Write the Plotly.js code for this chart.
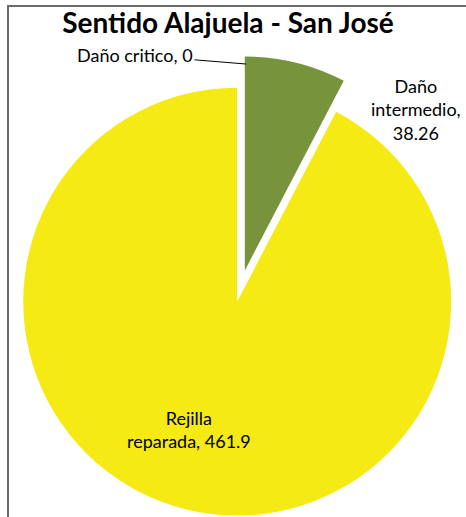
<!DOCTYPE html>
<html>
<head>
<meta charset="utf-8">
<script src="https://cdn.plot.ly/plotly-3.0.1.min.js"></script>
<style>
  html, body { margin: 0; padding: 0; overflow: hidden; background: #fff; }
  #chart { width: 480px; height: 517px; }
</style>
</head>
<body>
<div id="chart"></div>
<script>
// ---- data ----
const chartTitle = 'Sentido Alajuela - San José';
const labels = ['Daño critico', 'Daño intermedio', 'Rejilla reparada'];
const values = [0, 38.26, 461.9];
const sliceColors = ['#4F81BD', '#77933C', '#F5EA14'];

// ---- layout helpers (pixel -> paper) ----
const W = 480, H = 517;
const px = x => x / W;
const py = y => 1 - y / H;

const trace = {
  type: 'pie',
  labels: labels,
  values: values,
  sort: false,
  direction: 'clockwise',
  rotation: 0,
  pull: [0, 0.075, 0.075],
  marker: { colors: sliceColors, line: { width: 0 } },
  textinfo: 'none',
  hoverinfo: 'label+value',
  showlegend: false,
  domain: { x: [px(10), px(472)], y: [py(516), py(56)] }
};

const labelFont = { family: 'Lato, "Open Sans", sans-serif', size: 18, color: '#000' };

const annotations = [
  {
    xref: 'paper', yref: 'paper',
    x: px(246), y: py(64),
    text: labels[0] + ', ' + values[0],
    showarrow: true, arrowhead: 0, arrowwidth: 1, arrowcolor: '#000',
    ax: -111, ay: -9, standoff: 0,
    font: labelFont
  },
  {
    xref: 'paper', yref: 'paper',
    x: px(416), y: py(110),
    text: labels[1].replace(' ', '<br>') + ',<br>' + values[1],
    showarrow: false, xanchor: 'center', yanchor: 'middle',
    font: labelFont
  },
  {
    xref: 'paper', yref: 'paper',
    x: px(189), y: py(429),
    text: labels[2].replace(' ', '<br>') + ', ' + values[2],
    showarrow: false, xanchor: 'center', yanchor: 'middle',
    font: labelFont
  }
];

const layout = {
  width: W, height: H,
  margin: { l: 0, r: 0, t: 0, b: 0, pad: 0 },
  paper_bgcolor: '#fff',
  title: {
    text: '<b>' + chartTitle + '</b>',
    x: px(228), xanchor: 'center', xref: 'paper',
    y: py(23), yanchor: 'middle', yref: 'paper',
    font: { family: 'Lato, "Open Sans", sans-serif', size: 28, color: '#000' }
  },
  annotations: annotations,
  shapes: [
    { type: 'rect', xref: 'paper', yref: 'paper',
      x0: px(8), x1: 1.05, y0: -0.05, y1: py(6),
      line: { color: '#6b6b6b', width: 2 }, fillcolor: 'rgba(0,0,0,0)', layer: 'above' }
  ]
};

Plotly.newPlot('chart', [trace], layout, { displayModeBar: false, staticPlot: true });
</script>
</body>
</html>
